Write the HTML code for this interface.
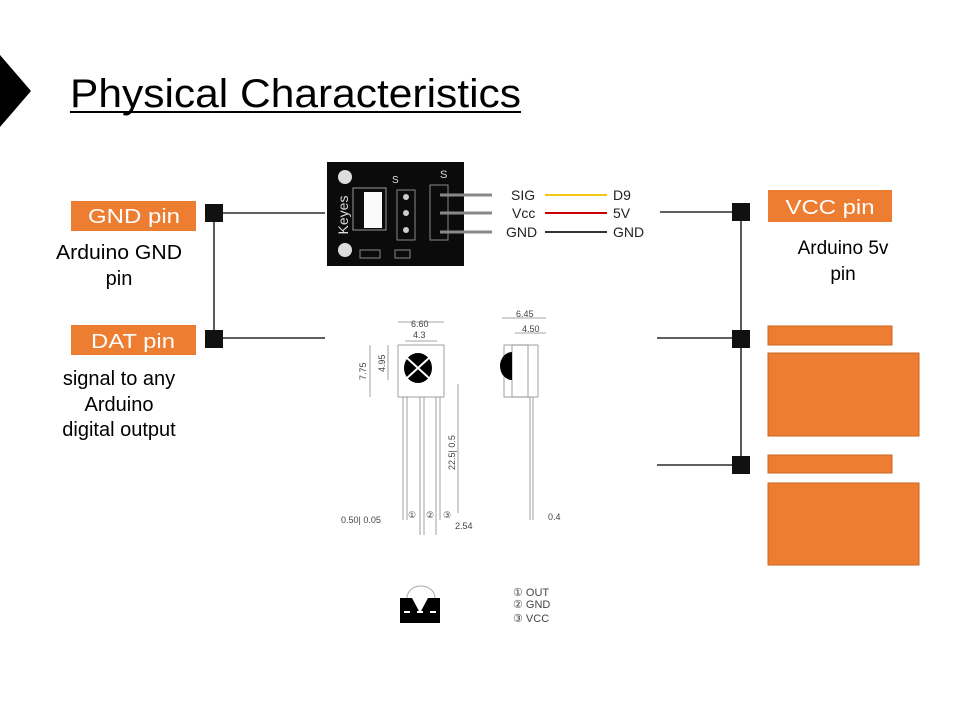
<!DOCTYPE html>
<html><head><meta charset="utf-8"><style>
body{margin:0;background:#fff;width:960px;height:720px;overflow:hidden;font-family:"Liberation Sans",sans-serif}
</style></head><body>
<svg width="960" height="720" viewBox="0 0 960 720" font-family="Liberation Sans, sans-serif">
<polygon points="0,55 31,91 0,127" fill="#000"/>
<text x="70" y="107" font-size="40" fill="#000" textLength="451" lengthAdjust="spacingAndGlyphs">Physical Characteristics</text>
<line x1="70" y1="112" x2="521" y2="112" stroke="#000" stroke-width="2"/>

<g stroke="#000" stroke-width="1.3" fill="none">
<line x1="223" y1="213" x2="325" y2="213"/><line x1="214" y1="213" x2="214" y2="339"/><line x1="223" y1="338" x2="325" y2="338"/>
</g>
<rect x="205" y="204" width="18" height="18" fill="#111"/>
<rect x="205" y="330" width="18" height="18" fill="#111"/>
<rect x="71" y="201" width="125" height="30" fill="#ED7D31"/>
<text x="134" y="223" font-size="20" fill="#fff" text-anchor="middle" textLength="92" lengthAdjust="spacingAndGlyphs">GND pin</text>
<rect x="71" y="325" width="125" height="30" fill="#ED7D31"/>
<text x="133" y="348" font-size="20" fill="#fff" text-anchor="middle" textLength="84" lengthAdjust="spacingAndGlyphs">DAT pin</text>
<g font-size="20" fill="#000" text-anchor="middle">
<text x="119" y="259" textLength="126" lengthAdjust="spacingAndGlyphs">Arduino GND</text><text x="119" y="285">pin</text>
<text x="119" y="385">signal to any</text><text x="119" y="411">Arduino</text><text x="119" y="436">digital output</text>
</g>

<g stroke="#000" stroke-width="1.3">
<line x1="660" y1="212" x2="741" y2="212"/><line x1="741" y1="212" x2="741" y2="465"/>
<line x1="657" y1="338" x2="741" y2="338"/><line x1="657" y1="465" x2="741" y2="465"/>
</g>
<rect x="732" y="203" width="18" height="18" fill="#111"/>
<rect x="732" y="330" width="18" height="18" fill="#111"/>
<rect x="732" y="456" width="18" height="18" fill="#111"/>
<rect x="768" y="190" width="124" height="32" fill="#ED7D31"/>
<text x="830" y="214" font-size="20" fill="#fff" text-anchor="middle" textLength="89" lengthAdjust="spacingAndGlyphs">VCC pin</text>
<text x="843" y="254" font-size="19" text-anchor="middle">Arduino 5v</text>
<text x="843" y="280" font-size="19" text-anchor="middle">pin</text>
<g fill="#ED7D31" stroke="#C9651F" stroke-width="1">
<rect x="768" y="326" width="124" height="19"/><rect x="768" y="353" width="151" height="83"/>
<rect x="768" y="455" width="124" height="18"/><rect x="768" y="483" width="151" height="82"/>
</g>

<g>
<rect x="327" y="162" width="137" height="104" fill="#0b0b0b"/>
<circle cx="345" cy="177" r="7" fill="#ddd"/><circle cx="345" cy="250" r="7" fill="#ddd"/>
<text x="348" y="215" font-size="14" fill="#ddd" transform="rotate(-90 348 215)" text-anchor="middle">Keyes</text>
<rect x="353" y="188" width="33" height="42" fill="none" stroke="#999"/>
<rect x="364" y="192" width="18" height="36" fill="#fafafa"/>
<rect x="397" y="190" width="18" height="50" fill="none" stroke="#888"/>
<circle cx="406" cy="197" r="3" fill="#ccc"/><circle cx="406" cy="213" r="3" fill="#ccc"/><circle cx="406" cy="230" r="3" fill="#ccc"/>
<rect x="430" y="185" width="18" height="55" fill="none" stroke="#888"/>
<text x="440" y="178" font-size="11" fill="#ddd">S</text><text x="392" y="183" font-size="10" fill="#ddd">S</text>
<rect x="360" y="250" width="20" height="8" fill="none" stroke="#888"/><rect x="395" y="250" width="15" height="8" fill="none" stroke="#888"/>
<g stroke="#888" stroke-width="3"><line x1="440" y1="195" x2="492" y2="195"/><line x1="440" y1="213" x2="492" y2="213"/><line x1="440" y1="232" x2="492" y2="232"/></g>
<g font-size="14" fill="#222"><text x="511" y="200">SIG</text><text x="512" y="218">Vcc</text><text x="506" y="237">GND</text>
<text x="613" y="200">D9</text><text x="613" y="218">5V</text><text x="613" y="237">GND</text></g>
<line x1="545" y1="195" x2="607" y2="195" stroke="#F5C518" stroke-width="2"/>
<line x1="545" y1="213" x2="607" y2="213" stroke="#C00" stroke-width="2"/>
<line x1="545" y1="232" x2="607" y2="232" stroke="#333" stroke-width="2"/>
</g>

<g stroke="#888" stroke-width="0.8" fill="none" font-size="9">
<rect x="398" y="345" width="46" height="52"/>
<ellipse cx="418" cy="368" rx="14" ry="15" fill="#000" stroke="none"/>
<line x1="407" y1="358" x2="429" y2="378" stroke="#fff" stroke-width="2"/><line x1="429" y1="358" x2="407" y2="378" stroke="#fff" stroke-width="2"/>
<line x1="403" y1="397" x2="403" y2="520"/><line x1="407" y1="397" x2="407" y2="520"/>
<line x1="420" y1="397" x2="420" y2="535"/><line x1="424" y1="397" x2="424" y2="535"/>
<line x1="436" y1="397" x2="436" y2="535"/><line x1="440" y1="397" x2="440" y2="520"/>
<line x1="398" y1="322" x2="444" y2="322"/><line x1="405" y1="341" x2="437" y2="341"/>
<line x1="370" y1="345" x2="370" y2="397"/><line x1="388" y1="345" x2="388" y2="380"/>
<line x1="458" y1="384" x2="458" y2="513"/>
<rect x="504" y="345" width="24" height="52"/><rect x="512" y="345" width="26" height="52"/>
<path d="M512 352 a12 14 0 0 0 0 28z" fill="#000" stroke="none"/>
<line x1="530" y1="397" x2="530" y2="520"/><line x1="533" y1="397" x2="533" y2="520"/>
<line x1="502" y1="318" x2="546" y2="318"/><line x1="515" y1="333" x2="546" y2="333"/>
<g fill="#444" stroke="none">
<text x="411" y="327">6.60</text><text x="413" y="338">4.3</text>
<text x="366" y="380" transform="rotate(-90 366 380)">7.75</text><text x="385" y="372" transform="rotate(-90 385 372)">4.95</text>
<text x="455" y="470" transform="rotate(-90 455 470)">22.5| 0.5</text>
<text x="341" y="523">0.50| 0.05</text><text x="408" y="518">①</text><text x="426" y="518">②</text><text x="443" y="518">③</text>
<text x="455" y="529">2.54</text>
<text x="516" y="317">6.45</text><text x="522" y="332">4.50</text><text x="548" y="520">0.4</text>
</g>
</g>
<g>
<path d="M407 598 a14 12 0 0 1 28 0" fill="none" stroke="#aaa"/>
<rect x="400" y="598" width="40" height="25" fill="#000"/>
<polygon points="412,598 428,598 420,613" fill="#fff"/>
<g fill="#fff"><rect x="404" y="611" width="6" height="2"/><rect x="417" y="611" width="6" height="2"/><rect x="430" y="611" width="6" height="2"/></g>
<g font-size="11" fill="#444"><text x="513" y="596">①  OUT</text><text x="513" y="608">②  GND</text><text x="513" y="622">③  VCC</text></g>
</g>
</svg>
</body></html>
